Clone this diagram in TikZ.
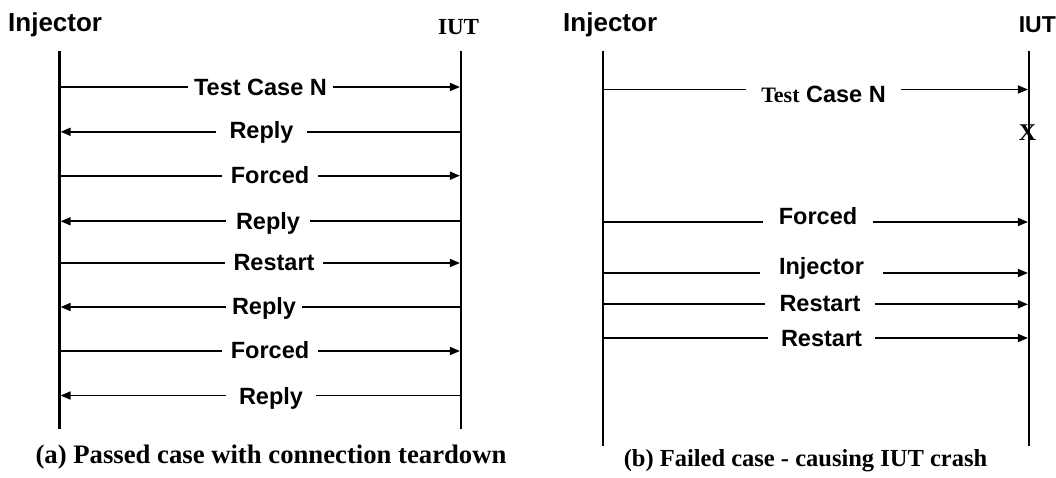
\documentclass[tikz,border=0pt]{standalone}
\usepackage{fontspec}
\setmainfont{Liberation Serif}
\setsansfont{Liberation Sans}
\usetikzlibrary{arrows.meta}
% #1 name, #2 left x, #3 right x, #4 line y, #5 label centre x, #6 label baseline y, #7 gap width, #8 text
\newcommand{\sqmsgR}[8]{%
  \coordinate (#1s) at (#2,#4);
  \coordinate (#1e) at (#3,#4);
  \node[lbl, minimum width=#7pt] (#1) at (#5,#6) {#8};
  \draw[msg] (#1s) -- (#1.west |- #1s);
  \draw[msga] (#1.east |- #1s) -- (#1e);}
\newcommand{\sqmsgL}[8]{%
  \coordinate (#1s) at (#3,#4);
  \coordinate (#1e) at (#2,#4);
  \node[lbl, minimum width=#7pt] (#1) at (#5,#6) {#8};
  \draw[msg] (#1s) -- (#1.east |- #1s);
  \draw[msga] (#1.west |- #1s) -- (#1e);}
\begin{document}
\begin{tikzpicture}[x=1pt,y=-1pt,
  life/.style={line width=2.2pt},
  msg/.style={line width=1.7pt},
  msga/.style={msg,-{Triangle[length=10pt,width=8pt]},shorten >=1.1pt},
  lbl/.style={font=\sffamily\bfseries\fontsize{23.5}{28}\selectfont, inner sep=0pt, anchor=base},
  hdr/.style={font=\sffamily\bfseries\fontsize{26}{30}\selectfont, inner sep=0pt, anchor=base west},
  serifhdr/.style={font=\rmfamily\bfseries\fontsize{23}{27}\selectfont, inner sep=0pt, anchor=base},
  sanshdr/.style={font=\sffamily\bfseries\fontsize{23}{27}\selectfont, inner sep=0pt, anchor=base east},
  caption/.style={inner sep=0pt, anchor=base}]
\useasboundingbox (0,0) rectangle (1056,478);

% ---------- panel (a) ----------
\node[hdr] (injA) at (8,32) {Injector};
\node[serifhdr] (iutA) at (458.5,35) {IUT};
\coordinate (aL0) at (59.5,51);
\coordinate (aL1) at (59.5,429);
\coordinate (aR0) at (461,51);
\coordinate (aR1) at (461,429);
\draw[life] (aL0) -- (aL1);
\draw[life] (aR0) -- (aR1);

\sqmsgR{a1}{59.5}{461}{87}{260.5}{96}{145}{Test Case N}
\sqmsgL{a2}{59.5}{461}{131.8}{261.5}{138.5}{91}{Reply}
\sqmsgR{a3}{59.5}{461}{175.7}{270}{184}{96}{Forced}
\sqmsgL{a4}{59.5}{461}{221.3}{268}{229.7}{84}{Reply}
\sqmsgR{a5}{59.5}{461}{263}{274}{270.5}{98}{Restart}
\sqmsgL{a6}{59.5}{461}{307}{264}{314.5}{76}{Reply}
\sqmsgR{a7}{59.5}{461}{351}{270}{358.4}{96}{Forced}
\sqmsgL{a8}{59.5}{461}{395.5}{271}{404}{90}{Reply}

\node[caption, font=\rmfamily\bfseries\fontsize{26.7}{31}\selectfont] (capA) at (271,463) {(a) Passed case with connection teardown};

% ---------- panel (b) ----------
\node[hdr] (injB) at (563,32) {Injector};
\node[sanshdr] (iutB) at (1056,33) {IUT};
\coordinate (bL0) at (602.6,51);
\coordinate (bL1) at (602.6,446);
\coordinate (bR0) at (1029,51);
\coordinate (bR1) at (1029,446);
\draw[life] (bL0) -- (bL1);
\draw[life] (bR0) -- (bR1);

\sqmsgR{b1}{602.6}{1029}{89.5}{823.5}{103}{155}{{\rmfamily\fontsize{22}{26}\selectfont Test} Case N}
\node[font=\rmfamily\bfseries\fontsize{24}{28}\selectfont, inner sep=0pt, anchor=base] (crash) at (1027.5,141) {X};
\sqmsgR{b2}{602.6}{1029}{222}{818}{224.7}{110}{Forced}
\sqmsgR{b3}{602.6}{1029}{273}{821.5}{274}{123}{Injector}
\sqmsgR{b4}{602.6}{1029}{304.3}{820}{311}{110}{Restart}
\sqmsgR{b5}{602.6}{1029}{338}{821.5}{346}{107}{Restart}

\node[caption, font=\rmfamily\bfseries\fontsize{24.5}{29}\selectfont] (capB) at (805.5,466) {(b) Failed case - causing IUT crash};
\end{tikzpicture}
\end{document}
